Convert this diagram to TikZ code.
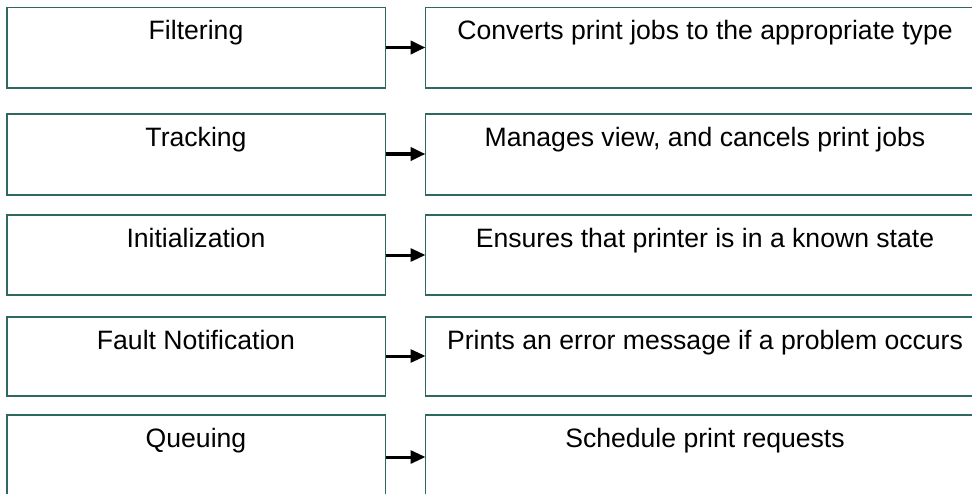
\documentclass[tikz,border=0pt]{standalone}
\usepackage{fontspec}
\setmainfont{Liberation Sans}
\usetikzlibrary{arrows.meta}
\definecolor{boxline}{RGB}{46,104,96}
\tikzset{
  x=0.5pt, y=-0.5pt,
  leftbox/.style={draw=boxline, line width=0.75pt},
  rightbox/.style={draw=boxline, line width=0.75pt},
  lbl/.style={anchor=base, inner sep=0pt, font=\fontsize{13.3pt}{15pt}\selectfont, text=black},
  flow/.style={draw=black, -{Triangle[length=7.5pt,width=6.5pt]}, shorten >=0pt},
}
\begin{document}
\begin{tikzpicture}
\useasboundingbox (0,0) rectangle (972,493);
\clip (0,0) rectangle (972,493);
% rows: top, bottom, label, description, arrow y offset, arrow width
\foreach \i/\t/\b/\l/\d/\o/\w in {
  1/7.5/88/Filtering/Converts print jobs to the appropriate type/40/1.9pt,
  2/114/195/Tracking/{Manages view, and cancels print jobs}/40/1.9pt,
  3/215/295/Initialization/Ensures that printer is in a known state/40/1.5pt,
  4/317/396/Fault Notification/Prints an error message if a problem occurs/39/1.5pt,
  5/415/520/Queuing/Schedule print requests/42/1.5pt}{
  \path[leftbox] (7,\t) rectangle (385.5,\b);
  \path[rightbox] (425.5,\t) rectangle (984,\b);
  \node[lbl] (L\i) at (196,\t+32) {\l};
  \node[lbl] (R\i) at (705,\t+32) {\d};
  \coordinate (A\i) at (385.5,\t+\o);
  \coordinate (B\i) at (425.5,\t+\o);
  \draw[flow, line width=\w] (A\i) -- (B\i);
}
\end{tikzpicture}
\end{document}
